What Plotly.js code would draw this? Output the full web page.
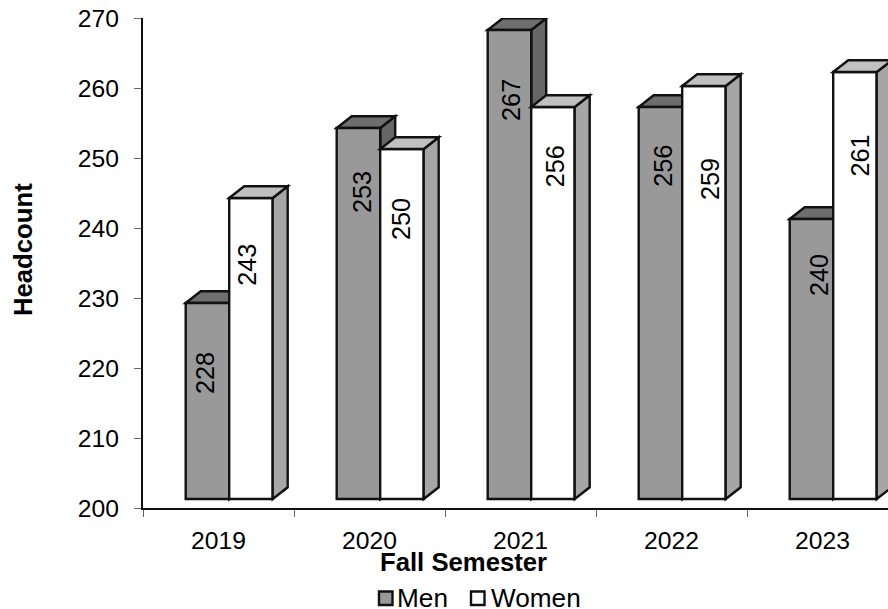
<!DOCTYPE html>
<html>
<head>
<meta charset="utf-8">
<script src="https://cdn.plot.ly/plotly-3.0.1.min.js"></script>
<style>html,body{margin:0;padding:0;background:#fff;overflow:hidden}</style>
</head>
<body>
<div id="chart" style="width:888px;height:609px"></div>
<script>
const years = ['2019', '2020', '2021', '2022', '2023'];
const men = [228, 253, 267, 256, 240];
const women = [243, 250, 256, 259, 261];
// where the value labels sit, on the chart's own axes
const menLabelX = [0.411, 1.455, 2.437, 3.444, 4.477];
const menLabelY = [219.3, 245.1, 258.3, 248.9, 233.3];
const womenLabelX = [0.687, 1.709, 2.725, 3.755, 4.746];
const womenLabelY = [234.7, 241.3, 248.9, 247.0, 250.3];

const FONT = 'Liberation Sans, Arial, sans-serif';
const INK = '#111111';
const PX_X = 151, PX_Y = 7;               // pixels per category / per unit
const barW = 43.5 / PX_X;                 // bar width in category units
const shift = 10.7 / PX_X;                // front face offset of each pair
const depthX = 15 / PX_X, depthY = 11.7 / PX_Y;
const floor = 200 + 9 / PX_Y;             // front faces stand above the axis
const STROKE = 2.4;

const centers = years.map((_, i) => i + 0.5 + shift);
const menX = centers.map(c => c - barW / 2);
const womenX = centers.map(c => c + barW / 2);

function poly(points, fill, layer) {
  return {
    type: 'path', xref: 'x', yref: 'y', layer: layer,
    path: 'M' + points.map(p => p[0] + ',' + p[1]).join('L') + 'Z',
    fillcolor: fill, line: {color: INK, width: STROKE}
  };
}
function faces(xs, vals, topFill, sideFill, layer) {
  const out = [];
  xs.forEach((x, i) => {
    const l = x - barW / 2, r = x + barW / 2, t = vals[i] + floor - 200;
    out.push(poly([[r, floor], [r + depthX, floor + depthY], [r + depthX, t + depthY], [r, t]], sideFill, layer));
    out.push(poly([[l, t], [l + depthX, t + depthY], [r + depthX, t + depthY], [r, t]], topFill, layer));
  });
  return out;
}
function barTrace(name, xs, vals, fill) {
  return {
    type: 'bar', name: name, x: xs, y: vals.map(v => v - 200),
    base: vals.map(() => floor), width: barW,
    marker: {color: fill, line: {color: INK, width: STROKE}},
    hoverinfo: 'skip', showlegend: false
  };
}
function labels(vals, lx, ly) {
  return vals.map((v, i) => ({
    xref: 'x', yref: 'y', x: lx[i], y: ly[i], text: String(v), textangle: -90,
    showarrow: false, font: {family: FONT, size: 25.2, color: '#000'}
  }));
}

const DOM_W = 745, DOM_H = 490;
const px = v => (v - 143) / DOM_W, py = v => (508 - v) / DOM_H;
function legendItem(name, left, textLeft, fill) {
  return {
    shape: {type: 'rect', xref: 'paper', yref: 'paper', layer: 'above',
      x0: px(left), x1: px(left + 13.5), y0: py(605), y1: py(591.5),
      fillcolor: fill, line: {color: INK, width: STROKE}},
    note: {xref: 'paper', yref: 'paper', x: px(textLeft), y: py(597.5), xanchor: 'left', yanchor: 'middle',
      text: name, showarrow: false, font: {family: FONT, size: 26.2, color: '#000'}}
  };
}
const legendMen = legendItem('Men', 379, 395, '#999999');
const legendWomen = legendItem('Women', 471, 489, '#ffffff');

const titleFont = {family: FONT, size: 25.7, color: '#000'};
const xTitle = {xref: 'paper', yref: 'paper', x: px(463.5), y: py(562), xanchor: 'center', yanchor: 'middle',
  text: '<b>Fall Semester</b>', showarrow: false, font: titleFont};
const yTitle = {xref: 'paper', yref: 'paper', x: px(23), y: py(250), xanchor: 'center', yanchor: 'middle',
  text: '<b>Headcount</b>', textangle: -90, showarrow: false, font: titleFont};

const shapes = [
  ...faces(menX, men, '#6e6e6e', '#666666', 'below'),
  ...faces(womenX, women, '#c0c0c0', '#a6a6a6', 'above'),
  legendMen.shape, legendWomen.shape
];
const annotations = [
  ...labels(men, menLabelX, menLabelY),
  ...labels(women, womenLabelX, womenLabelY),
  legendMen.note, legendWomen.note, xTitle, yTitle
];

const data = [
  barTrace('Men', menX, men, '#999999'),
  barTrace('Women', womenX, women, '#ffffff')
];

const layout = {
  width: 888, height: 609, autosize: false,
  margin: {l: 143, r: 0, t: 18, b: 101, pad: 0},
  paper_bgcolor: '#fff', plot_bgcolor: '#fff',
  barmode: 'overlay', showlegend: false,
  font: {family: FONT, size: 24.7, color: '#000'},
  xaxis: {
    range: [0, DOM_W / PX_X], showgrid: false, zeroline: false,
    tickmode: 'array', tickvals: years.map((_, i) => i + 0.5), ticktext: years,
    ticks: 'outside', ticklen: 9, tickwidth: 1, tickcolor: 'rgba(0,0,0,0)',
    showline: true, linecolor: INK, linewidth: 2,
    minor: {tickmode: 'linear', tick0: 0, dtick: 1, ticks: 'outside', ticklen: 7, tickwidth: 1, tickcolor: '#666', showgrid: false},
    automargin: false, fixedrange: true
  },
  yaxis: {
    range: [200, 270], tickmode: 'array', tickvals: [200, 210, 220, 230, 240, 250, 260, 270],
    showgrid: false, zeroline: false,
    ticks: 'outside', ticklen: 7, tickwidth: 1, tickcolor: '#666', ticklabelstandoff: 10,
    showline: true, linecolor: INK, linewidth: 2,
    automargin: false, fixedrange: true
  },
  shapes: shapes, annotations: annotations
};
Plotly.newPlot('chart', data, layout, {displayModeBar: false, staticPlot: true});
</script>
</body>
</html>
